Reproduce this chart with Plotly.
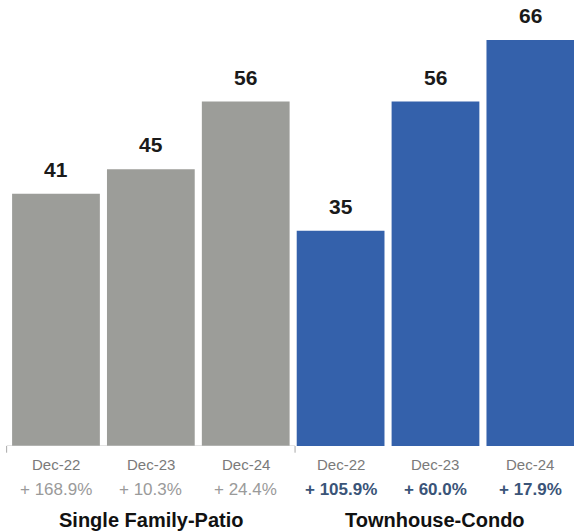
import plotly.graph_objects as go

# Median values by segment and period
groups = ["Single Family-Patio", "Townhouse-Condo"]
periods = ["Dec-22", "Dec-23", "Dec-24", "Dec-22", "Dec-23", "Dec-24"]
values = [41, 45, 56, 35, 56, 66]
changes = ["+ 168.9%", "+ 10.3%", "+ 24.4%", "+ 105.9%", "+ 60.0%", "+ 17.9%"]

GRAY = "#9c9d99"
BLUE = "#3461ab"
bar_colors = [GRAY] * 3 + [BLUE] * 3
change_colors = ["#9a9a9a"] * 3 + ["#3a5478"] * 3
change_bold = [False] * 3 + [True] * 3

x = list(range(len(values)))
font_family = "Liberation Sans, Arial, sans-serif"

fig = go.Figure(
    go.Bar(
        x=x,
        y=values,
        marker=dict(color=bar_colors, line=dict(width=0)),
        hoverinfo="skip",
    )
)

annotations = []
for i, v in enumerate(values):
    # value label above the bar
    annotations.append(dict(
        x=i, y=v, xref="x", yref="y", text=f"<b>{v}</b>",
        showarrow=False, yanchor="bottom", yshift=11,
        font=dict(family=font_family, size=21, color="#1a1a1a"),
    ))
    # period label under the axis
    annotations.append(dict(
        x=i, y=0, xref="x", yref="y", text=periods[i],
        showarrow=False, yanchor="middle", yshift=-18,
        font=dict(family=font_family, size=15, color="#7a7a7a"),
    ))
    # year-over-year change
    txt = f"<b>{changes[i]}</b>" if change_bold[i] else changes[i]
    annotations.append(dict(
        x=i, y=0, xref="x", yref="y", text=txt,
        showarrow=False, yanchor="middle", yshift=-43,
        font=dict(family=font_family, size=17, color=change_colors[i]),
    ))

# group captions centred under each set of three bars
for g, name in enumerate(groups):
    annotations.append(dict(
        x=g * 3 + 1, y=0, xref="x", yref="y", text=f"<b>{name}</b>",
        showarrow=False, yanchor="middle", yshift=-74,
        font=dict(family=font_family, size=20, color="#111111"),
    ))

fig.update_layout(
    width=574,
    height=532,
    margin=dict(l=0, r=0, t=0, b=86),
    paper_bgcolor="white",
    plot_bgcolor="white",
    showlegend=False,
    bargap=0.075,
    annotations=annotations,
    xaxis=dict(
        range=[-0.59, 5.46],
        showticklabels=False,
        showgrid=False,
        zeroline=False,
        showline=False,
        fixedrange=True,
    ),
    yaxis=dict(
        range=[0, 72.5],
        showticklabels=False,
        showgrid=False,
        zeroline=False,
        showline=False,
        fixedrange=True,
    ),
)

# thin baseline with small ticks at the group edges
fig.add_shape(type="line", xref="x", yref="y", x0=-0.52, x1=2.52, y0=0, y1=0,
              line=dict(color="#c8c8c8", width=1))
for xt in (-0.52, 2.52):
    fig.add_shape(type="line", xref="x", yref="paper", x0=xt, x1=xt, y0=0, y1=-0.015,
                  line=dict(color="#a8a8a8", width=1))

fig.write_html("out.html")
